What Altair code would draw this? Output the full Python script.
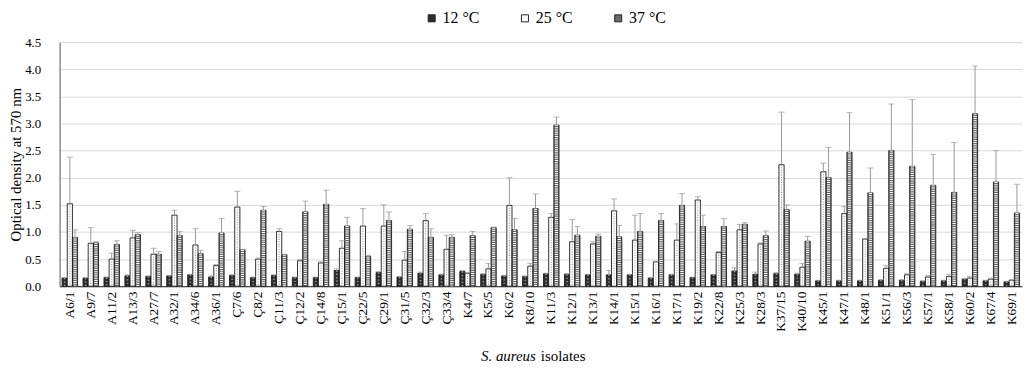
import altair as alt
import pandas as pd

categories = ["A6/1","A9/7","A11/2","A13/3","A27/7","A32/1","A34/6","A36/1",
              "Ç7/6","Ç8/2","Ç11/3","Ç12/2","Ç14/8","Ç15/1","Ç22/5","Ç29/1","Ç31/5","Ç32/3","Ç33/4",
              "K4/7","K5/5","K6/2","K8/10","K11/3","K12/1","K13/1","K14/1","K15/1","K16/1","K17/1",
              "K19/2","K22/8","K25/3","K28/3","K37/15","K40/10","K45/1","K47/1","K48/1","K51/1",
              "K56/3","K57/1","K58/1","K60/2","K67/4","K69/1"]
series = ["12 °C", "25 °C", "37 °C"]
y_ticks = [0, 0.5, 1, 1.5, 2, 2.5, 3, 3.5, 4, 4.5]

v12 = [0.15,0.15,0.16,0.19,0.18,0.19,0.21,0.17,
       0.20,0.16,0.20,0.16,0.16,0.29,0.16,0.25,0.17,0.24,0.21,
       0.27,0.22,0.19,0.18,0.23,0.22,0.21,0.21,0.21,0.15,0.21,
       0.16,0.21,0.28,0.22,0.23,0.22,0.10,0.10,0.10,0.11,
       0.11,0.09,0.10,0.13,0.10,0.08]
e12 = [0.01,0.01,0.01,0.02,0.01,0.01,0.01,0.02,
       0.01,0.01,0.01,0.01,0.01,0.03,0.01,0.02,0.01,0.02,0.01,
       0.02,0.01,0.01,0.01,0.01,0.01,0.01,0.08,0.01,0.01,0.01,
       0.01,0.01,0.06,0.04,0.02,0.02,0.01,0.01,0.01,0.01,
       0.01,0.01,0.01,0.01,0.01,0.01]
v25 = [1.52,0.79,0.50,0.89,0.59,1.31,0.76,0.38,
       1.46,0.50,1.01,0.47,0.43,0.70,1.11,1.11,0.48,1.21,0.68,
       0.24,0.32,1.49,0.37,1.27,0.82,0.78,1.39,0.85,0.45,0.85,
       1.59,0.62,1.04,0.78,2.24,0.35,2.11,1.34,0.87,0.33,
       0.21,0.17,0.18,0.15,0.13,0.11]
e25 = [0.86,0.29,0.11,0.14,0.11,0.09,0.30,0.02,
       0.29,0.02,0.05,0.02,0.02,0.14,0.32,0.39,0.16,0.13,0.26,
       0.01,0.10,0.51,0.05,0.07,0.41,0.04,0.22,0.46,0.01,0.30,
       0.06,0.02,0.10,0.02,0.97,0.07,0.16,0.13,0.01,0.05,
       0.02,0.03,0.04,0.03,0.02,0.01]
v37 = [0.90,0.80,0.77,0.95,0.59,0.93,0.60,0.98,
       0.67,1.40,0.58,1.37,1.51,1.11,0.55,1.21,1.05,0.90,0.90,
       0.93,1.08,1.04,1.43,2.97,0.94,0.92,0.91,1.01,1.21,1.49,
       1.10,1.10,1.14,0.93,1.41,0.83,2.00,2.47,1.72,2.50,
       2.21,1.86,1.73,3.18,1.92,1.35]
e37 = [0.14,0.02,0.07,0.04,0.05,0.08,0.06,0.27,
       0.01,0.07,0.01,0.20,0.26,0.16,0.02,0.16,0.07,0.16,0.05,
       0.08,0.01,0.21,0.27,0.15,0.16,0.04,0.21,0.33,0.13,0.22,
       0.21,0.15,0.03,0.09,0.09,0.09,0.56,0.73,0.46,0.86,
       1.23,0.57,0.92,0.88,0.58,0.53]

frames = []
for vals, errs, s in [(v12, e12, series[0]), (v25, e25, series[1]), (v37, e37, series[2])]:
    frames.append(pd.DataFrame({"isolate": categories, "temp": s, "od": vals,
                                "top": [v + e for v, e in zip(vals, errs)],
                                "zero": 0.0}))
df = pd.concat(frames, ignore_index=True)
df12, df25, df37 = frames

FONT = "Liberation Serif, Times New Roman, serif"
xenc = alt.X("isolate:N", sort=categories, title=None,
             scale=alt.Scale(paddingInner=0.26, paddingOuter=0.12),
             axis=alt.Axis(labelAngle=-90, labelFont=FONT, labelFontSize=13.5, labelColor="black",
                           ticks=False, domainColor="#222", labelPadding=5, grid=False))
xoff = alt.XOffset("temp:N", sort=series, scale=alt.Scale(domain=series))
yaxis = alt.Axis(values=y_ticks, format=".1f", labelOverlap=False,
                 labelFont=FONT, labelFontSize=13, labelColor="black",
                 titleFont=FONT, titleFontSize=15, titleFontWeight="normal",
                 titleColor="black", titlePadding=1,
                 ticks=False, domainColor="#555", gridColor="#d9d9d9", labelPadding=19)


def yq(field):
    return alt.Y(field, title="Optical density at 570 nm",
                 scale=alt.Scale(domain=[0, 4.5]), axis=yaxis)


color = alt.Color("temp:N", sort=series,
                  scale=alt.Scale(domain=series, range=["#2e2e2e", "#ffffff", "#6a6a6a"]),
                  legend=alt.Legend(title=None, orient="none", direction="horizontal",
                                    legendX=367, legendY=-32, symbolType="square",
                                    symbolSize=50, symbolStrokeColor="#222", symbolStrokeWidth=1,
                                    labelFont=FONT, labelFontSize=16, labelColor="black",
                                    columnPadding=37, labelOffset=3))

bars = alt.Chart(df).mark_bar(stroke="#1a1a1a", strokeWidth=0.9).encode(
    x=xenc, xOffset=xoff, y=yq("od:Q"), color=color)

# inner hatching to imitate the fill patterns
hatch37 = alt.Chart(df37).mark_rule(color="#ffffff", strokeWidth=3.2, strokeDash=[1, 1.2]).encode(
    x=xenc, xOffset=xoff, y=yq("od:Q"), y2="zero:Q")
hatch12 = alt.Chart(df12).mark_rule(color="#9a9a9a", strokeWidth=1.6, strokeDash=[1.2, 2.2]).encode(
    x=xenc, xOffset=xoff, y=yq("od:Q"), y2="zero:Q")
hatch25 = alt.Chart(df25).mark_rule(color="#8a8a8a", strokeWidth=1, strokeDash=[1, 1.5]).encode(
    x=xenc, xOffset=xoff, y=yq("od:Q"), y2="zero:Q")

err = alt.Chart(df).mark_rule(color="#999999", strokeWidth=1).encode(
    x=xenc, xOffset=xoff, y=yq("od:Q"), y2="top:Q")
caps = alt.Chart(df).mark_tick(color="#999999", thickness=1, size=6, orient="horizontal").encode(
    x=xenc, xOffset=xoff, y=yq("top:Q"))

t1 = alt.Chart(pd.DataFrame({"t": ["S. aureus"]})).mark_text(
    font=FONT, fontSize=15, fontStyle="italic", align="right", baseline="middle", color="black"
).encode(x=alt.value(480), y=alt.value(316), text="t:N")
t2 = alt.Chart(pd.DataFrame({"t": ["isolates"]})).mark_text(
    font=FONT, fontSize=15, align="left", baseline="middle", color="black"
).encode(x=alt.value(485), y=alt.value(316), text="t:N")

chart = alt.layer(bars, hatch12, hatch25, hatch37, err, caps, t1, t2).properties(
    width=970, height=246,
    autosize=alt.AutoSizeParams(type="none"),
    padding={"left": 52, "top": 33, "right": 4, "bottom": 80},
).configure_view(stroke=None)

chart.save("out.html", embed_options={"renderer": "svg", "actions": False})
